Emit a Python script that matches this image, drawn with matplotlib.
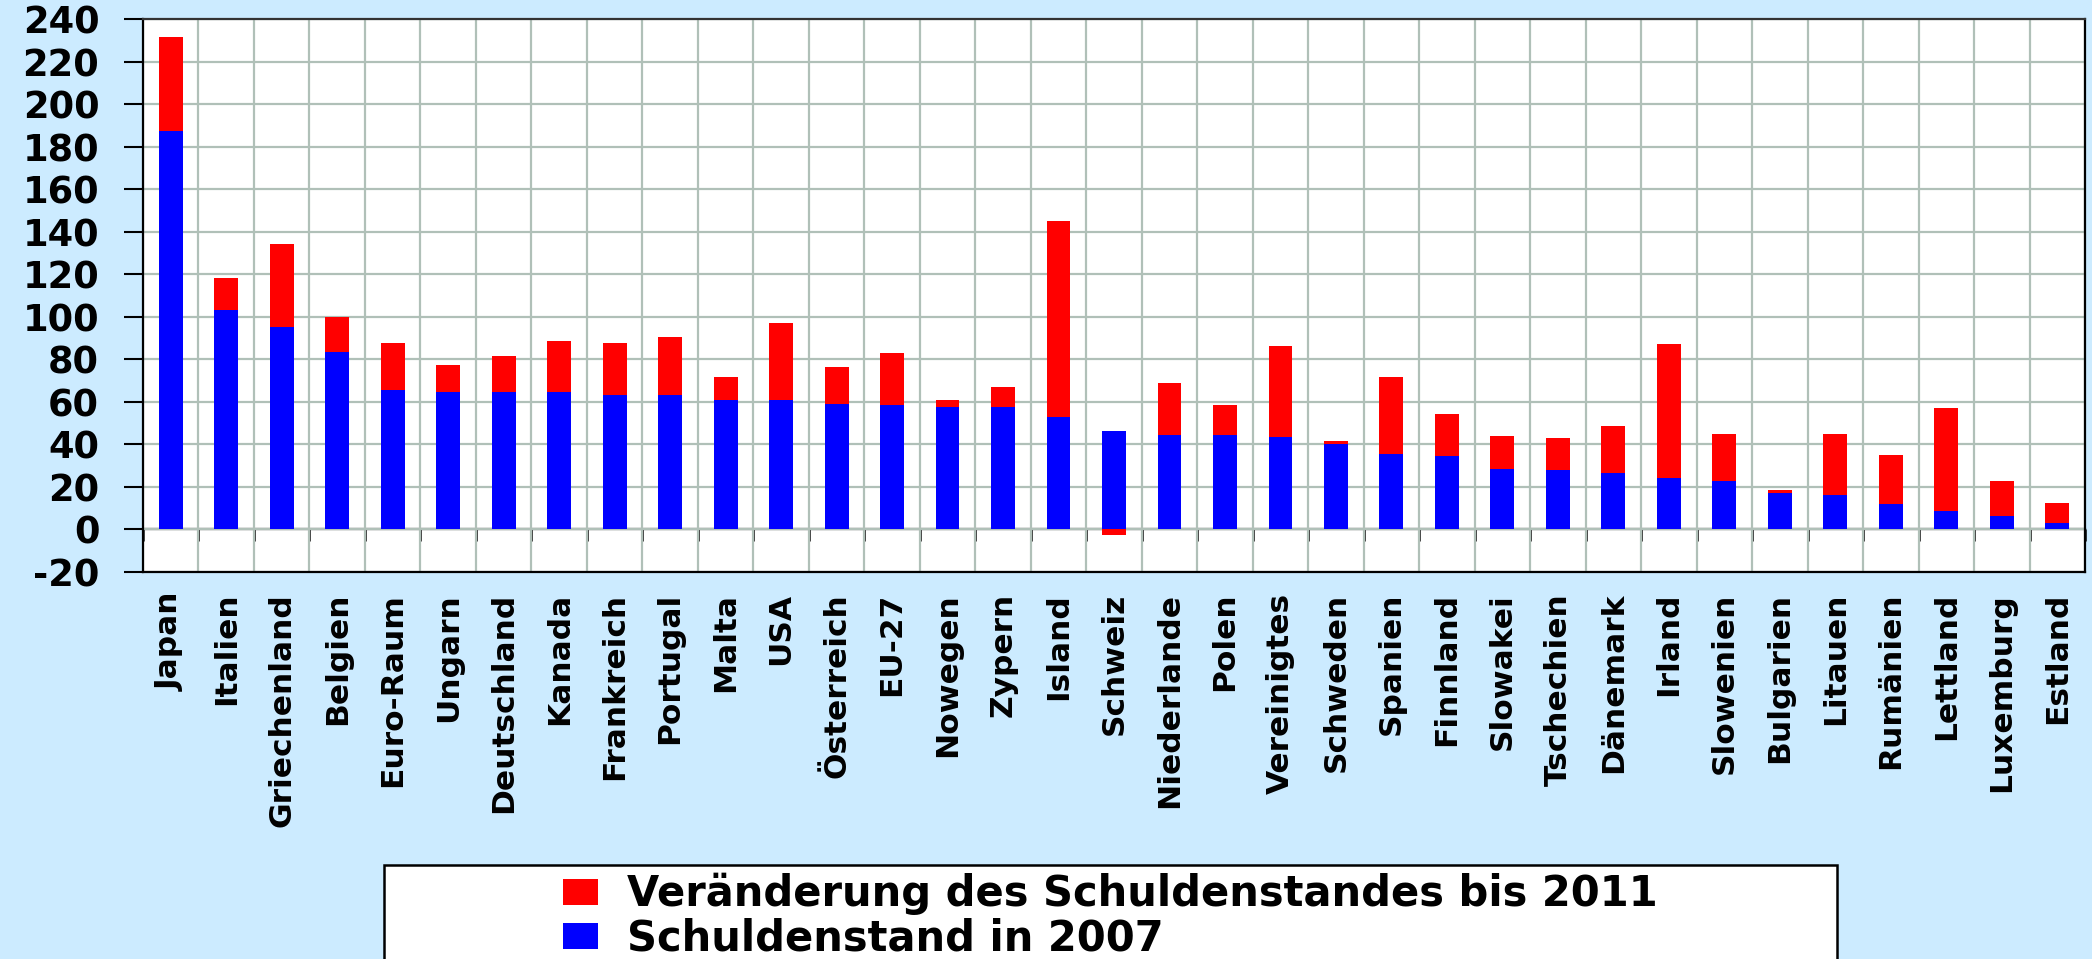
import numpy as np
import matplotlib
matplotlib.use("Agg")
import matplotlib.pyplot as plt
from matplotlib.patches import Rectangle, Patch

plt.rcParams['font.family'] = ['DejaVu Sans']
plt.rcParams['font.weight'] = 'bold'

countries = ["Japan", "Italien", "Griechenland", "Belgien", "Euro-Raum", "Ungarn",
             "Deutschland", "Kanada", "Frankreich", "Portugal", "Malta", "USA",
             "Österreich", "EU-27", "Nowegen", "Zypern", "Island", "Schweiz",
             "Niederlande", "Polen", "Vereinigtes", "Schweden", "Spanien", "Finnland",
             "Slowakei", "Tschechien", "Dänemark", "Irland", "Slowenien", "Bulgarien",
             "Litauen", "Rumänien", "Lettland", "Luxemburg", "Estland"]

debt_2007 = [187.2, 103.4, 95.4, 83.6, 65.8, 64.7, 64.4, 64.4, 63.4, 63.4, 60.8, 60.8,
             59.1, 58.4, 57.4, 57.4, 52.7, 46.1, 44.3, 44.3, 43.3, 40.4, 35.4, 34.5,
             28.5, 27.8, 26.4, 24.1, 22.7, 17.3, 16.0, 12.0, 8.8, 6.3, 3.2]

change_2011 = [44.4, 15.0, 38.6, 16.5, 22.0, 12.8, 17.3, 24.4, 24.4, 27.2, 10.7, 36.2,
               17.2, 24.4, 3.4, 9.4, 92.4, -2.7, 24.4, 14.1, 42.9, 1.0, 36.1, 19.7,
               15.3, 15.0, 22.1, 63.1, 22.1, 1.1, 28.8, 22.8, 48.1, 16.6, 9.4]

label_change = "Veränderung des Schuldenstandes bis 2011"
label_debt = "Schuldenstand in 2007"
y_ticks = list(range(-20, 241, 20))

BG = '#CCEBFF'
GRID = '#B0C0B8'

W, H = 2092, 959
fig = plt.figure(figsize=(W / 100, H / 100), dpi=100, facecolor=BG)
ax = fig.add_axes([143 / W, 1 - 572 / H, (2085 - 143) / W, (572 - 19) / H])
ax.set_facecolor('white')

n = len(countries)
x = np.arange(n)
debt = np.array(debt_2007)
chg = np.array(change_2011)
bottoms = np.where(chg >= 0, debt, 0.0)

ax.bar(x, debt, width=0.43, color='#0000FF', zorder=3)
ax.bar(x, chg, width=0.43, bottom=bottoms, color='#FF0000', zorder=3)

ymin, ymax = y_ticks[0], y_ticks[-1]
ax.set_xlim(-0.5, n - 0.5)
ax.set_ylim(ymin, ymax)
ax.set_yticks(y_ticks)
ax.set_yticklabels([str(v) for v in y_ticks], fontsize=26.5, fontweight='bold')
ax.tick_params(axis='y', direction='out', length=13.5, width=1.5, pad=18, color='black')

ax.set_xticks(x)
ax.set_xticklabels(countries, rotation=90, fontsize=22.5, fontweight='bold', va='top')
ax.tick_params(axis='x', length=0, pad=15)
ax.set_xticks(np.arange(-0.5, n, 1.0), minor=True)
ax.tick_params(axis='x', which='minor', length=0)

ax.grid(True, which='major', axis='y', color=GRID, linewidth=1.6, zorder=0)
ax.grid(True, which='minor', axis='x', color=GRID, linewidth=1.6, zorder=0)
ax.set_axisbelow(True)

for side in ['left', 'right', 'bottom']:
    ax.spines[side].set_color('black')
    ax.spines[side].set_linewidth(1.6)
ax.spines['top'].set_color('#333333')
ax.spines['top'].set_linewidth(1.6)

# zero line with category tick marks
zero_frac = (0 - ymin) / (ymax - ymin)
sec = ax.secondary_xaxis(zero_frac)
sec.set_xticks(np.arange(-0.5, n, 1.0))
sec.set_xticklabels([])
sec.tick_params(direction='out', length=8.5, width=1.8, color='black')
sec.spines['bottom'].set_linewidth(1.6)
sec.spines['bottom'].set_color('black')

# legend
fig.patches.append(Rectangle((384 / W, -0.05), (1837 - 384) / W, 1 - 865 / H + 0.05,
                             transform=fig.transFigure, facecolor='white',
                             edgecolor='black', linewidth=1.8, zorder=1))
handles = [Patch(facecolor='#FF0000', label=label_change),
           Patch(facecolor='#0000FF', label=label_debt)]
fig.legend(handles=handles, loc='upper center',
           bbox_to_anchor=((384 + 1837) / 2 / W, 1 - 848 / H),
           frameon=False, prop={'size': 30, 'weight': 'bold'},
           handlelength=0.85, handleheight=0.58, handletextpad=0.7,
           labelspacing=0.06, borderpad=0.1)

fig.savefig('out.png', dpi=100, facecolor=BG)
